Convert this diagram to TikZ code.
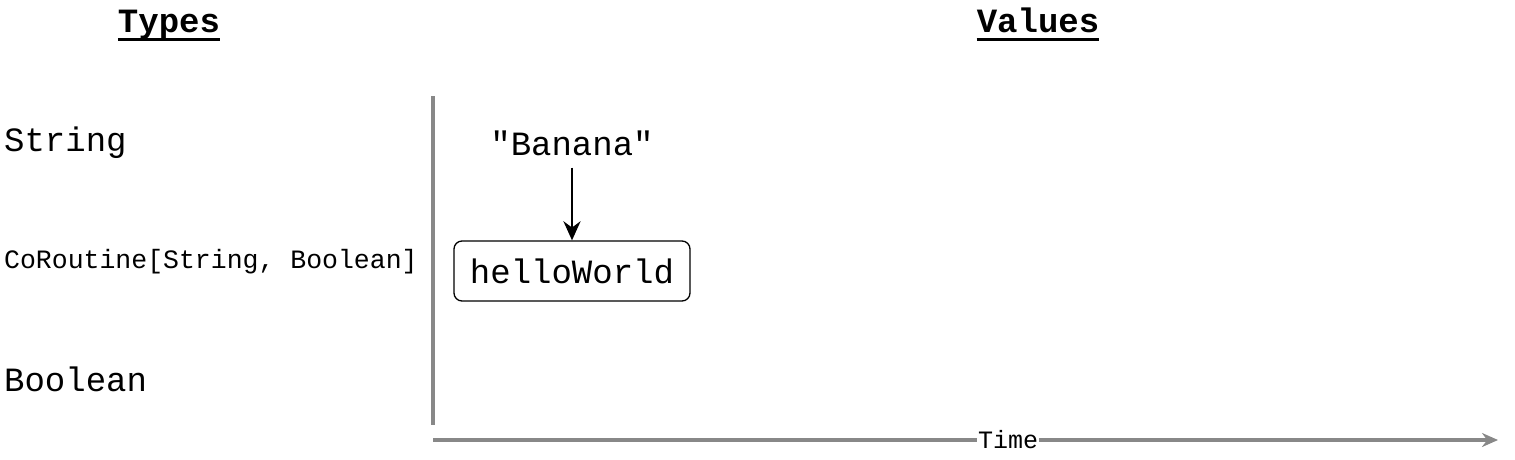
\documentclass[tikz,border=0pt]{standalone}
\usepackage{fontspec}
\setmainfont{Liberation Mono}
\usetikzlibrary{arrows.meta}
\definecolor{axisgray}{HTML}{888888}
\begin{document}
\begin{tikzpicture}[x=1pt,y=-1pt,
  big/.style={font=\fontsize{34}{40}\selectfont, inner sep=0pt},
  small/.style={font=\fontsize{26.5}{32}\selectfont, inner sep=0pt},
  title/.style={font=\fontsize{34}{40}\selectfont\bfseries, inner sep=0pt, anchor=base},
  ul/.style={line width=3pt},
  axis/.style={draw=axisgray, line width=3.5pt},
  valbox/.style={draw, line width=1.3pt, rounded corners=8pt, minimum width=236pt, minimum height=60pt, inner sep=0pt, font=\fontsize{34}{40}\selectfont},
  arr/.style={-{Stealth[length=19pt,width=17pt]}, line width=2.8pt}
]
\useasboundingbox (0,0) rectangle (1515,459);
% titles
\node[title] (types) at (169,32) {Types};
\node[title] (values) at (1038,32) {Values};
\draw[ul] ([yshift=-7.5pt]types.base west) -- ([yshift=-7.5pt]types.base east);
\draw[ul] ([yshift=-7.5pt]values.base west) -- ([yshift=-7.5pt]values.base east);
% type labels
\node[big, anchor=base west] (tstring) at (4,151) {String};
\node[small, anchor=base west] (tco) at (4,268) {CoRoutine[String, Boolean]};
\node[big, anchor=base west] (tbool) at (4,391) {Boolean};
% axes
\coordinate (v0) at (433,96);
\coordinate (v1) at (433,425);
\draw[axis] (v0) -- (v1);
\coordinate (t0) at (433,440);
\coordinate (t1) at (1498,440);
\draw[axis, -{Stealth[length=16pt,width=14pt]}] (t0) -- node[pos=0.54, fill=white, inner sep=1pt, font=\fontsize{25}{30}\selectfont, text=black] (time) {Time} (t1);
% values
\node[big, anchor=base] (banana) at (572,155) {\textquotedbl Banana\textquotedbl};
\node[valbox] (hw) at (572,271) {helloWorld};
\draw[arr] ([yshift=-12pt]banana.south) -- (hw.north);
\end{tikzpicture}
\end{document}
